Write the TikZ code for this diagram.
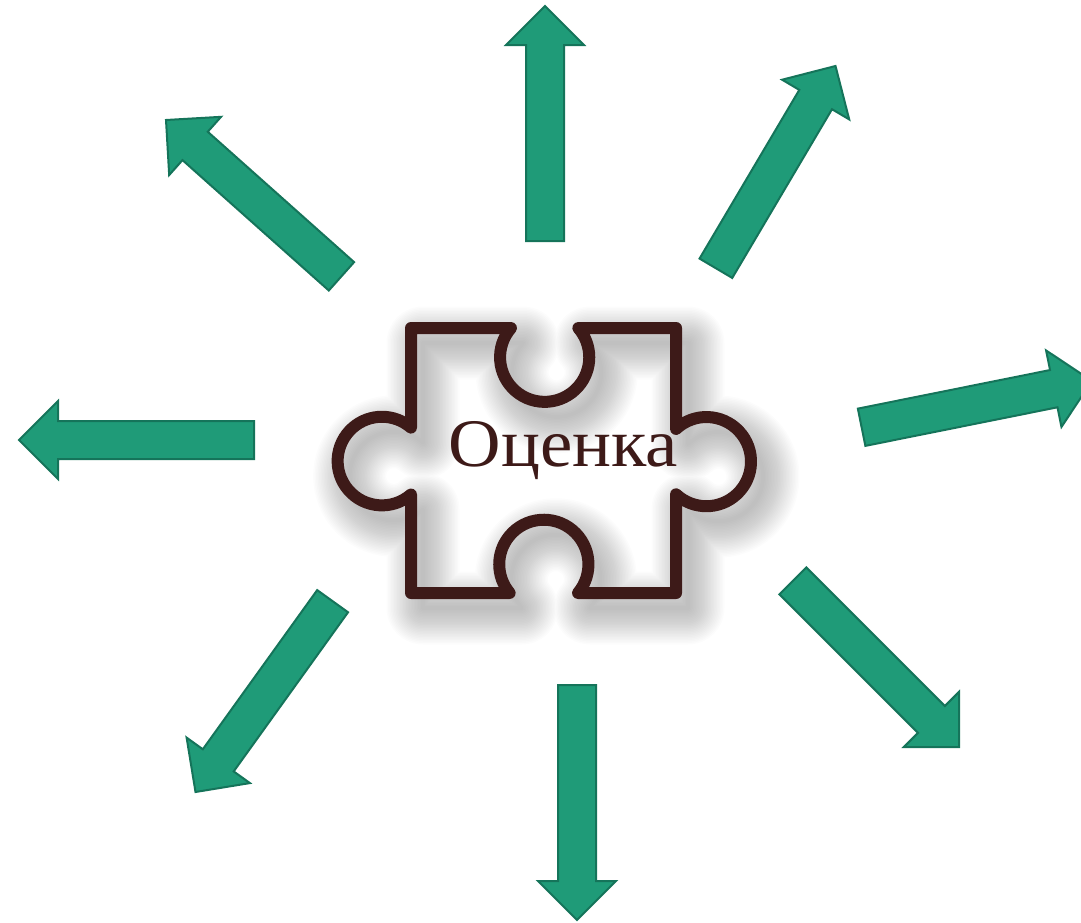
\documentclass[tikz,border=0pt]{standalone}
\usepackage{fontspec}
\setmainfont{Liberation Serif}
\usepackage{tikz}
\usetikzlibrary{shapes.arrows}

\definecolor{arrowfill}{HTML}{1F9B78}
\definecolor{arrowline}{HTML}{15745A}
\definecolor{puzzleline}{HTML}{3D1A18}

\tikzset{
    blockarrow/.style={single arrow, anchor=tip, draw=arrowline, fill=arrowfill, line width=2pt,
        minimum height=235pt, inner xsep=0pt, inner ysep=18pt, outer sep=0pt,
        single arrow head extend=20pt, single arrow tip angle=90, single arrow head indent=0pt}
}

\newcommand{\puzzleoutline}{(411,328) -- (511,328) arc[start angle=221, end angle=-41, radius=44.6]
    -- (676,328) -- (676,429) arc[start angle=227, end angle=493, radius=44.6]
    -- (676,593) -- (578,593) arc[start angle=40, end angle=-220, radius=44.6]
    -- (411,593) -- (411,494.5) arc[start angle=49, end angle=311, radius=44.3] -- cycle}

\begin{document}
\begin{tikzpicture}[x=1pt, y=-1pt]
                \useasboundingbox (0,0) rectangle (1081,923);
                \foreach \shw in {4,7,...,73}
                    \draw[black, opacity=0.011, line width=\shw pt, line join=round, shift={(12,15)}] \puzzleoutline;
                \draw[puzzleline, line width=12pt, line join=round] \puzzleoutline;
                \node(eval_m) at(563.5, 466) [anchor=base, text=puzzleline, inner sep=0pt]
                    {\scalebox{1.07}[1]{\fontsize{68}{68}\selectfont Оценка}};
                \node(arr_up) at(545, 6) [blockarrow, rotate=90] {};
                \node(arr_ur) at(835.5, 66) [blockarrow, rotate=59.4] {};
                \node(arr_r)  at(1092, 381) [blockarrow, rotate=11.35] {};
                \node(arr_dr) at(959, 747) [blockarrow, rotate=-45] {};
                \node(arr_d)  at(577, 920) [blockarrow, rotate=-90] {};
                \node(arr_dl) at(195.5, 792) [blockarrow, rotate=-125.7] {};
                \node(arr_l)  at(19, 440) [blockarrow, rotate=180] {};
                \node(arr_ul) at(166, 120) [blockarrow, rotate=138.3] {};
            \end{tikzpicture}
\end{document}
